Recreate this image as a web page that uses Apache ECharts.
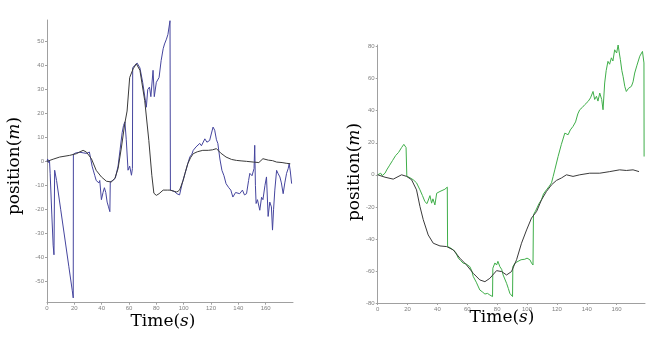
<!DOCTYPE html>
<html>
<head>
<meta charset="utf-8">
<script src="https://cdn.jsdelivr.net/npm/echarts@6/dist/echarts.min.js"></script>
<style>
  html, body { margin: 0; padding: 0; background: #fff; }
  #chart { width: 659px; height: 338px; }
</style>
</head>
<body>
<div id="chart"></div>
<script>
// left panel: estimate (blue) and reference (black)
const leftBlackT = [0, 5, 9.3, 16.6, 21.5, 26.4, 28.8, 32.5, 36, 39.8, 43.5, 47, 49.6, 52, 54.5, 56.9, 58.6, 60.5, 63, 65.4, 68, 71.5, 74.5, 76.7, 78.2, 80, 82, 85, 88, 90, 93, 95, 97, 99.6, 101, 103, 105, 107, 110, 114, 118, 121, 124, 127, 131, 135, 138.6, 142, 146, 151, 155, 158, 162, 165, 168, 172, 175, 178];
const leftBlackY = [0, 1, 1.8, 2.5, 3.2, 4.6, 3.9, 1.1, -3.75, -6.5, -8.3, -8.6, -7.2, -3, 6, 15.7, 21, 35, 38.6, 40.7, 38, 25.4, 8.75, -5.8, -13.3, -14.2, -13.5, -12, -12, -12, -12.5, -12.8, -12, -8, -5, -1, 1.5, 3.2, 4, 4.6, 4.6, 4.8, 5.3, 3.5, 1.8, 0.8, 0.4, 0.2, 0, -0.3, -0.5, 1.1, 0.5, 0.3, -0.3, -0.5, -0.8, -1];

const leftBlueT = [0, 0.5, 1, 1.8, 2.3, 3.5, 4.5, 5.1, 5.6, 7, 10, 13, 16, 18.5, 19.2, 19.3, 21, 24, 27, 29, 31, 32, 33, 34, 35, 36, 37, 38, 38.6, 39.8, 41, 42, 43, 44, 45, 46, 46.3, 48, 50, 52, 53.5, 55, 56, 57, 58, 59.3, 60.5, 61.8, 62.5, 62.7, 64, 66, 68, 70, 72.7, 73.7, 75, 76, 77.6, 78.5, 80, 82, 83.5, 85, 86, 87.4, 88.5, 90, 90.3, 93, 95, 97, 99, 101, 103, 104.5, 106, 107, 109, 111.8, 113, 115.5, 117, 119, 120, 121.5, 122.7, 124, 125, 126.5, 128, 129.5, 131, 133, 134.5, 136, 138, 141, 143, 144.5, 146, 147.5, 148.4, 150, 151.5, 152, 152.5, 153, 154, 155.7, 157, 158, 159.5, 160.6, 161.8, 163, 164.2, 165, 165.8, 166.7, 168, 169, 170.4, 171.5, 172.8, 174, 175.3, 176.5, 177.2, 178, 179];
const leftBlueY = [0, 1, -0.5, 0.5, -5, -22, -35, -39, -3.7, -8, -20, -32, -44, -54, -57, 3, 3.5, 3.8, 3.5, 3.3, 3.9, 1, -2, -4, -6, -8, -7.5, -9, -8, -16, -13, -11, -13, -17, -19, -21, -8.6, -8, -7, -2, 5, 12, 15, 16.5, 9, -3.7, -2, -5.8, -3, 39, 40, 41, 39, 33, 22.6, 30, 31, 27, 38, 27, 33, 35, 42, 47, 49, 51, 53, 58.7, -12, -12.5, -13.5, -14, -9, -5, -1, 1.8, 3, 4.6, 6, 7.5, 6.5, 9.4, 8, 8.7, 11, 14.3, 13, 9, 7.5, 1, -3.75, -6, -9.3, -11, -12, -14.9, -13, -13.5, -12, -14, -13.5, -8, -5, -6, -3, 6.7, -10, -17.6, -16, -20.4, -15, -16, -10, -6.5, -23, -17, -19, -28.7, -20, -12, -3.75, -5, -6.5, -9, -13.5, -9, -5, -3, -1, -4, -9.3];

// right panel: estimate (green) and reference (black)
const rightBlackT = [0, 4.9, 10.4, 16, 19.4, 22.7, 26, 28.3, 30.5, 33.8, 37.2, 41.7, 46.2, 50.6, 55, 59.5, 64, 68.4, 71.8, 75.1, 79.6, 83, 86.3, 89.6, 93, 96.3, 99.7, 103, 106.4, 109.7, 113, 116.4, 119.7, 123, 126.4, 130.8, 135.3, 142, 148.7, 155.4, 162, 166.5, 171, 175];
const rightBlackY = [0, -1.5, -2.7, 0, -1, -3.1, -9.4, -19.8, -28, -37.5, -42.7, -44.4, -44.8, -46.9, -52, -56.3, -61.5, -65.6, -66.7, -64.6, -59.8, -60.4, -62.5, -60.4, -53, -42.7, -34.4, -27, -22.9, -15.6, -10.4, -6.25, -3.5, -2, 0, -1, 0, 1, 1, 2, 3.1, 2.7, 3.1, 2];

const rightGreenT = [0, 1, 2, 3, 4.9, 6, 8, 10, 12, 14, 16, 17.5, 18.3, 19, 19.5, 21, 23.8, 26, 28.3, 30, 31.6, 33, 33.8, 35, 36.1, 37, 38.3, 39.5, 41.7, 43, 45, 46.6, 46.8, 48.5, 50.6, 52, 54, 55.5, 57.3, 59, 61.7, 63, 64, 66, 68.4, 70, 71.8, 73.5, 75.1, 76.9, 77.1, 78.5, 79.6, 80.5, 81.8, 83, 84, 86.3, 87.5, 88.5, 90.3, 90.5, 92, 94, 96, 98.5, 100, 101.9, 103, 104, 104.3, 106, 108, 109.7, 111, 113, 115, 116.4, 117.5, 118.6, 120.8, 123, 125.3, 127.5, 129, 130.8, 132.5, 134, 135.3, 137, 138.7, 140.9, 142.5, 144.2, 145.3, 146.5, 147.5, 148.7, 150, 150.9, 152, 153, 154.2, 155.3, 156.5, 157.5, 158.7, 160, 161, 161.8, 162.5, 163.5, 164.3, 165.5, 166.5, 168, 169.9, 171, 172.1, 173.5, 175.5, 176.5, 177.3, 178.3, 178.4];
const rightGreenY = [0, -1, 1, -0.5, 1, 3, 6, 9, 12, 14, 17, 19, 20, 17, -1, -1.5, -3.1, -5, -9.4, -13, -16.7, -18, -18.8, -13, -17.7, -15, -18.8, -11.5, -10.4, -10, -9, -7.7, -44.8, -45.5, -46.9, -48, -52, -53.5, -55.2, -55.5, -57.3, -60, -63.5, -67, -71.9, -73, -74.4, -74, -75, -76, -58.3, -55, -56.3, -54, -57.3, -59, -62.5, -67.7, -71, -74, -76, -57.3, -55, -54, -53, -52.7, -52, -53, -55, -56.3, -25, -22, -18, -15.6, -12, -9.4, -7, -5, -1, 3.1, 11.4, 19, 26, 25, 28, 30.2, 33, 38, 40.6, 42, 43.8, 45.8, 48, 52, 47, 49, 46, 51, 47, 40.6, 57.3, 65, 70.8, 69, 73, 71, 78, 76, 81, 76, 71.9, 65, 61.5, 55, 52, 54, 55.2, 58, 63.5, 68, 74, 75, 77, 69.8, 11.4];

// tick labels
const xTicks = [0, 20, 40, 60, 80, 100, 120, 140, 160];
const leftYTicks = [-50, -40, -30, -20, -10, 0, 10, 20, 30, 40, 50];
const rightYTicks = [-80, -60, -40, -20, 0, 20, 40, 60, 80];

const pairs = (t, y) => t.map((v, i) => [v, y[i]]);

const serif = 'DejaVu Serif';
const labelRich = {
    r: { fontFamily: serif, fontSize: 17, color: '#1a1a1a' },
    i: { fontFamily: serif, fontSize: 17, fontStyle: 'italic', color: '#1a1a1a' }
};

function xAxis(gridIndex, max) {
    return {
        type: 'value', gridIndex: gridIndex, min: 0, max: max,
        axisLine: { onZero: false, lineStyle: { color: '#a0a0a0', width: 1 } },
        axisTick: { length: 2, customValues: xTicks, lineStyle: { color: '#a0a0a0' } },
        axisLabel: { customValues: xTicks, fontSize: 6, color: '#808080', margin: 3 },
        splitLine: { show: false }
    };
}
function yAxis(gridIndex, min, max, ticks) {
    return {
        type: 'value', gridIndex: gridIndex, min: min, max: max,
        axisLine: { show: true, onZero: false, lineStyle: { color: '#a0a0a0', width: 1 } },
        axisTick: { show: true, length: 2, customValues: ticks, lineStyle: { color: '#a0a0a0' } },
        axisLabel: { customValues: ticks, fontSize: 6, color: '#808080', margin: 3 },
        splitLine: { show: false }
    };
}
function line(xi, data, color, z) {
    return {
        type: 'line', xAxisIndex: xi, yAxisIndex: xi, data: data,
        showSymbol: false, symbol: 'none', z: z,
        lineStyle: { color: color, width: 1 }, animation: false
    };
}

const chart = echarts.init(document.getElementById('chart'));
chart.setOption({
    backgroundColor: '#fff',
    animation: false,
    grid: [
        { left: 47, top: 20, width: 246, height: 282.7 },
        { left: 377.7, top: 45, width: 267.3, height: 258 }
    ],
    xAxis: [xAxis(0, 180), xAxis(1, 179)],
    yAxis: [yAxis(0, -59, 59, leftYTicks), yAxis(1, -80, 81, rightYTicks)],
    series: [
        line(0, pairs(leftBlueT, leftBlueY), '#45459e', 2),
        line(0, pairs(leftBlackT, leftBlackY), '#3a3a3a', 3),
        line(1, pairs(rightGreenT, rightGreenY), '#3fae49', 2),
        line(1, pairs(rightBlackT, rightBlackY), '#3a3a3a', 3)
    ],
    graphic: [
        { type: 'text', x: 15, y: 166, rotation: Math.PI / 2,
          style: { text: '{r|position(}{i|m}{r|)}', rich: labelRich, align: 'center', verticalAlign: 'middle' } },
        { type: 'text', x: 355, y: 172, rotation: Math.PI / 2,
          style: { text: '{r|position(}{i|m}{r|)}', rich: labelRich, align: 'center', verticalAlign: 'middle' } },
        { type: 'text', x: 163, y: 322,
          style: { text: '{r|Time(}{i|s}{r|)}', rich: labelRich, align: 'center', verticalAlign: 'middle' } },
        { type: 'text', x: 502, y: 318,
          style: { text: '{r|Time(}{i|s}{r|)}', rich: labelRich, align: 'center', verticalAlign: 'middle' } }
    ]
});
</script>
</body>
</html>
